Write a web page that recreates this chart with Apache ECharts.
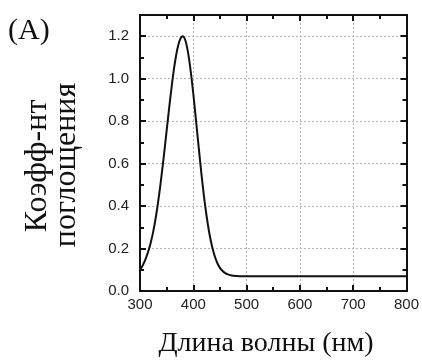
<!DOCTYPE html>
<html>
<head>
<meta charset="utf-8">
<script src="https://cdn.jsdelivr.net/npm/echarts@6/dist/echarts.min.js"></script>
<style>
  html, body { margin: 0; padding: 0; background: #fff; }
  #chart { width: 422px; height: 360px; }
</style>
</head>
<body>
<div id="chart"></div>
<script>
// Absorption spectrum: wavelength (nm) vs absorption coefficient
const wavelength = [300, 305, 310, 315, 320, 325, 330, 335, 340, 345, 350, 355, 360, 365, 370, 375, 380,
  385, 390, 395, 400, 405, 410, 415, 420, 425, 430, 435, 440, 445, 450, 455, 460, 465, 470, 475, 480,
  490, 500, 550, 600, 650, 700, 750, 800];
const absorption = [0.099, 0.120, 0.148, 0.183, 0.226, 0.282, 0.352, 0.437, 0.535, 0.642, 0.755, 0.868, 0.975, 1.067, 1.139, 1.184, 1.200,
  1.181, 1.125, 1.038, 0.929, 0.806, 0.680, 0.558, 0.447, 0.352, 0.273, 0.212, 0.166, 0.132, 0.109, 0.094, 0.084, 0.078, 0.074, 0.072, 0.071,
  0.070, 0.070, 0.070, 0.070, 0.070, 0.070, 0.070, 0.070];
const xTicks = [300, 400, 500, 600, 700, 800];
const yTicks = [0.0, 0.2, 0.4, 0.6, 0.8, 1.0, 1.2];

const panelLabel = '(A)';
const xTitle = 'Длина волны (нм)';
const yTitleLines = ['Коэфф-нт', 'поглощения'];

const serif = '"Liberation Serif", "Times New Roman", serif';
const sans = '"Liberation Sans", Arial, sans-serif';
const ink = '#111';

const chart = echarts.init(document.getElementById('chart'), null, { renderer: 'canvas' });

const gridLine = { show: true, lineStyle: { color: '#b5b5b5', type: [2, 2], width: 1 } };

function yAxisBase(pos, step, tickLen, withLabels) {
  return {
    type: 'value', position: pos, min: 0, max: 1.3, interval: step,
    axisLine: { show: true, onZero: false, lineStyle: { color: ink, width: 2 } },
    axisTick: { show: true, inside: true, length: tickLen, lineStyle: { color: ink, width: 2 } },
    axisLabel: withLabels ? {
      show: true, color: '#222', fontFamily: sans, fontSize: 15, margin: 11,
      showMaxLabel: false,
      formatter: v => (yTicks.some(t => Math.abs(t - v) < 1e-9) ? v.toFixed(1) : '')
    } : { show: false },
    splitLine: (withLabels && pos === 'left') ? gridLine : { show: false }
  };
}

function xAxisBase(pos, withLabels) {
  return {
    type: 'value', position: pos, min: xTicks[0], max: xTicks[xTicks.length - 1], interval: 100,
    axisLine: { show: true, onZero: false, lineStyle: { color: ink, width: 2 } },
    axisTick: { show: true, inside: true, length: 6, lineStyle: { color: ink, width: 2 } },
    minorTick: { show: true, splitNumber: 2, length: 4, lineStyle: { color: ink, width: 2 } },
    axisLabel: withLabels ? { show: true, color: '#222', fontFamily: sans, fontSize: 15, margin: 6 } : { show: false },
    splitLine: withLabels ? gridLine : { show: false }
  };
}

chart.setOption({
  animation: false,
  backgroundColor: '#fff',
  grid: { left: 140, right: 13, top: 15, bottom: 69, containLabel: false },
  xAxis: [xAxisBase('bottom', true), xAxisBase('top', false)],
  yAxis: [
    yAxisBase('left', 0.2, 6, true),
    yAxisBase('left', 0.1, 4, false),
    yAxisBase('right', 0.2, 6, false),
    yAxisBase('right', 0.1, 4, false)
  ],
  series: [{
    type: 'line',
    xAxisIndex: 0, yAxisIndex: 0,
    data: wavelength.map((w, i) => [w, absorption[i]]),
    smooth: 0.3,
    showSymbol: false,
    lineStyle: { color: ink, width: 2 },
    z: 5
  }],
  graphic: [
    { type: 'text', x: 8, y: 31, style: { text: panelLabel, font: '30px ' + serif, fill: ink, textAlign: 'left', textVerticalAlign: 'middle' } },
    { type: 'text', x: 266, y: 344, style: { text: xTitle, font: '28px ' + serif, fill: ink, textAlign: 'center', textVerticalAlign: 'middle' } },
    { type: 'text', x: 38, y: 166, rotation: Math.PI / 2, style: { text: yTitleLines[0], font: '32px ' + serif, fill: ink, textAlign: 'center', textVerticalAlign: 'middle' } },
    { type: 'text', x: 67, y: 165, rotation: Math.PI / 2, style: { text: yTitleLines[1], font: '32px ' + serif, fill: ink, textAlign: 'center', textVerticalAlign: 'middle' } }
  ]
});
</script>
</body>
</html>
